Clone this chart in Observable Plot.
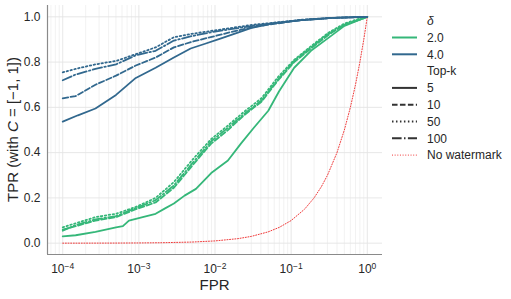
<!DOCTYPE html>
<html>
<head>
<meta charset="utf-8">
<script src="https://cdn.jsdelivr.net/npm/d3@7"></script>
<script src="https://cdn.jsdelivr.net/npm/@observablehq/plot@0.6"></script>
<style>
  html, body { margin: 0; padding: 0; background: #fff; }
  #chart { width: 511px; height: 299px; }
</style>
</head>
<body>
<div id="chart"></div>
<script>
// ---------- data (x values are log10(FPR)) ----------
const deltaLevels = ["2.0", "4.0"];
const deltaColors = ["#35b779", "#31688e"];
const topKLevels = ["5", "10", "50", "100"];
const topKDashes = [null, "5.55,2.4", "1.5,2.475", "9.6,2.4,1.5,2.4"];

// delta = 4.0
const blueK5LogFpr = [-4, -3.8, -3.57, -3.3, -3.04, -2.78, -2.54, -2.32, -2.14, -1.92, -1.7, -1.53, -1.26, -0.87, -0.47, 0];
const blueK5Tpr    = [0.537, 0.565, 0.595, 0.655, 0.73, 0.775, 0.82, 0.86, 0.88, 0.905, 0.93, 0.95, 0.97, 0.985, 0.995, 1.0];
const blueLogFpr   = [-4, -3.83, -3.57, -3.3, -3.04, -2.78, -2.54, -2.3, -2.0, -1.7, -1.5, -1.2, -0.87, -0.47, 0];
const blueK10Tpr   = [0.64, 0.65, 0.70, 0.74, 0.785, 0.82, 0.865, 0.89, 0.915, 0.94, 0.955, 0.97, 0.985, 0.995, 1.0];
const blueK50Tpr   = [0.755, 0.77, 0.79, 0.805, 0.835, 0.865, 0.91, 0.925, 0.94, 0.955, 0.965, 0.975, 0.987, 0.995, 1.0];
const blueK100Tpr  = [0.72, 0.745, 0.77, 0.79, 0.83, 0.85, 0.895, 0.915, 0.935, 0.95, 0.96, 0.973, 0.985, 0.995, 1.0];

// delta = 2.0
const greenK5LogFpr = [-4, -3.83, -3.57, -3.3, -3.21, -3.13, -2.95, -2.78, -2.65, -2.54, -2.4, -2.25, -2.05, -1.83, -1.66, -1.49, -1.3, -1.16, -0.96, -0.74, -0.51, -0.3, -0.08, 0];
const greenK5Tpr    = [0.03, 0.035, 0.05, 0.07, 0.075, 0.10, 0.115, 0.13, 0.155, 0.175, 0.21, 0.24, 0.31, 0.365, 0.44, 0.51, 0.585, 0.67, 0.775, 0.85, 0.907, 0.96, 0.99, 1.0];
const greenLogFpr   = [-4, -3.83, -3.57, -3.3, -3.04, -2.78, -2.54, -2.28, -2.05, -1.83, -1.62, -1.39, -1.17, -0.96, -0.74, -0.51, -0.3, -0.08, 0];
const greenK10Tpr   = [0.06, 0.075, 0.10, 0.115, 0.15, 0.18, 0.245, 0.35, 0.44, 0.50, 0.565, 0.625, 0.72, 0.80, 0.86, 0.92, 0.965, 0.99, 1.0];
const greenK50Tpr   = [0.07, 0.088, 0.115, 0.13, 0.16, 0.20, 0.27, 0.375, 0.46, 0.52, 0.58, 0.64, 0.735, 0.81, 0.87, 0.93, 0.97, 0.995, 1.0];
const greenK100Tpr  = [0.055, 0.08, 0.105, 0.12, 0.155, 0.19, 0.255, 0.36, 0.45, 0.51, 0.57, 0.63, 0.725, 0.805, 0.865, 0.925, 0.965, 0.99, 1.0];

// no watermark (chance line)
const noWmFpr = [0.0001, 0.0002, 0.0005, 0.001, 0.002, 0.005, 0.01, 0.02, 0.03, 0.05, 0.07, 0.1, 0.15, 0.2, 0.25, 0.3, 0.4, 0.5, 0.6, 0.7, 0.8, 0.9, 1.0];
const noWmTpr = [0.0001, 0.0002, 0.0005, 0.001, 0.002, 0.005, 0.01, 0.02, 0.03, 0.05, 0.07, 0.1, 0.15, 0.2, 0.25, 0.3, 0.4, 0.5, 0.6, 0.7, 0.8, 0.9, 1.0];

// axis ticks
const xTickExps = [-4, -3, -2, -1, 0];
const xMinorTicks = [7e-5, 8e-5, 9e-5,
  2e-4, 3e-4, 4e-4, 5e-4, 6e-4, 7e-4, 8e-4, 9e-4,
  2e-3, 3e-3, 4e-3, 5e-3, 6e-3, 7e-3, 8e-3, 9e-3,
  2e-2, 3e-2, 4e-2, 5e-2, 6e-2, 7e-2, 8e-2, 9e-2,
  0.2, 0.3, 0.4, 0.5, 0.6, 0.7, 0.8, 0.9];
const yTicks = [0, 0.2, 0.4, 0.6, 0.8, 1.0];

// legend labels
const legendDeltaTitle = "δ";
const legendTopKTitle = "Top-k";
const legendNoWm = "No watermark";

// ---------- build ----------
const series = [
  {d: 0, k: 0, lx: greenK5LogFpr, y: greenK5Tpr},
  {d: 0, k: 1, lx: greenLogFpr, y: greenK10Tpr},
  {d: 0, k: 2, lx: greenLogFpr, y: greenK50Tpr},
  {d: 0, k: 3, lx: greenLogFpr, y: greenK100Tpr},
  {d: 1, k: 0, lx: blueK5LogFpr, y: blueK5Tpr},
  {d: 1, k: 1, lx: blueLogFpr, y: blueK10Tpr},
  {d: 1, k: 2, lx: blueLogFpr, y: blueK50Tpr},
  {d: 1, k: 3, lx: blueLogFpr, y: blueK100Tpr}
];

const xTicks = xTickExps.map(e => Math.pow(10, e));
const noWm = noWmFpr.map((f, i) => ({fpr: f, tpr: noWmTpr[i]}));

const W = 511, H = 299, ML = 47, MR = 129, MT = 5, MB = 45;
const textColor = "#262626";

const marks = [
  Plot.gridX(xMinorTicks, {stroke: "#ececec", strokeOpacity: 1, strokeWidth: 0.7}),
  Plot.gridX(xTicks, {stroke: "#e4e4e4", strokeOpacity: 1, strokeWidth: 0.9}),
  Plot.gridY(yTicks, {stroke: "#e4e4e4", strokeOpacity: 1, strokeWidth: 0.9}),
  Plot.line(noWm, {x: "fpr", y: "tpr", stroke: "#f03a3a", strokeWidth: 1, strokeDasharray: "1,1.65"})
];
for (const s of series) {
  const data = s.lx.map((lx, i) => ({fpr: Math.pow(10, lx), tpr: s.y[i]}));
  const opts = {x: "fpr", y: "tpr", stroke: deltaColors[s.d], strokeWidth: 1.8};
  if (topKDashes[s.k]) opts.strokeDasharray = topKDashes[s.k];
  marks.push(Plot.line(data, opts));
}
marks.push(
  Plot.axisX({ticks: xTicks, tickFormat: d => "10^" + String(Math.round(Math.log10(d))).replace("-", "−"),
              tickSize: 0, tickPadding: 10, label: null, fontSize: 12}),
  Plot.axisY({ticks: yTicks, tickFormat: d3.format(".1f"), tickSize: 0, tickPadding: 7, label: null, fontSize: 12}),
  Plot.ruleX([Math.pow(10, -4.2)], {stroke: "#8a8a8a", strokeWidth: 1.2}),
  Plot.ruleY([-0.05], {stroke: "#8a8a8a", strokeWidth: 1.2})
);

const svg = Plot.plot({
  width: W, height: H,
  marginLeft: ML, marginRight: MR, marginTop: MT, marginBottom: MB,
  x: {type: "log", domain: [Math.pow(10, -4.2), Math.pow(10, 0.2)]},
  y: {domain: [-0.05, 1.05]},
  style: {fontFamily: "'Liberation Sans', Arial, sans-serif", fontSize: "12px", color: textColor, background: "#fff"},
  marks
});

// superscript exponents
d3.select(svg).selectAll("text").each(function () {
  const m = /^10\^(.+)$/.exec(this.textContent);
  if (m) {
    this.textContent = "10";
    d3.select(this).append("tspan").attr("dy", "-0.5em").attr("font-size", "8.5px").text(m[1]);
  }
});

const sel = d3.select(svg);
const font = "'Liberation Sans', Arial, sans-serif";
// axis titles
sel.append("text").attr("x", (ML + W - MR) / 2).attr("y", 290).attr("text-anchor", "middle")
  .attr("font-family", font).attr("font-size", 15).attr("fill", textColor).text("FPR");
const yl = sel.append("text").attr("transform", `translate(18,${(MT + H - MB) / 2}) rotate(-90)`)
  .attr("text-anchor", "middle").attr("font-family", font).attr("font-size", 15).attr("fill", textColor);
yl.append("tspan").text("TPR (with ");
yl.append("tspan").attr("font-style", "italic").text("C");
yl.append("tspan").text(" = [−1, 1])");

// legend
const legendRows = [
  {label: legendDeltaTitle, italic: true},
  {label: deltaLevels[0], stroke: deltaColors[0], width: 2},
  {label: deltaLevels[1], stroke: deltaColors[1], width: 2},
  {label: legendTopKTitle},
  ...topKLevels.map((k, i) => ({label: k, stroke: "#333333", width: 2, dash: topKDashes[i]})),
  {label: legendNoWm, stroke: "#f03a3a", width: 1, dash: "1,1.65"}
];
const lg = sel.append("g");
legendRows.forEach((r, i) => {
  const y = 20.7 + i * 16.8;
  if (r.stroke) {
    const ln = lg.append("line").attr("x1", 392).attr("x2", 417).attr("y1", y).attr("y2", y)
      .attr("stroke", r.stroke).attr("stroke-width", r.width);
    if (r.dash) ln.attr("stroke-dasharray", r.dash);
  }
  const t = lg.append("text").attr("x", 427).attr("y", y).attr("dy", "0.36em").attr("text-anchor", "start")
    .attr("font-family", font).attr("font-size", 12).attr("fill", textColor).text(r.label);
  if (r.italic) t.attr("font-style", "italic");
});

document.getElementById("chart").appendChild(svg);
</script>
</body>
</html>
